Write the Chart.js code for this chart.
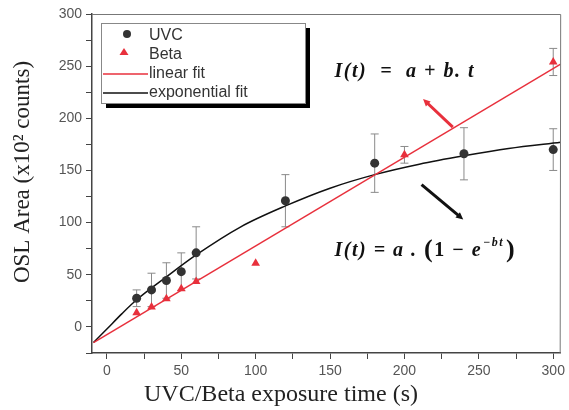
<!DOCTYPE html>
<html>
<head>
<meta charset="utf-8">
<script src="https://cdn.jsdelivr.net/npm/chart.js@4"></script>
<style>
  html, body { margin: 0; padding: 0; background: #fff; }
  #wrap { width: 569px; height: 410px; }
</style>
</head>
<body>
<div id="wrap"><canvas id="oslChart" width="569" height="410"></canvas></div>
<script>
// exposure times (s) and OSL area (x10^2 counts)
const uvcTime = [20, 30, 40, 50, 60, 120, 180, 240, 300];
const uvcArea = [27.5, 35.5, 44.5, 53, 71, 121, 157, 166, 170];
const uvcErr  = [8, 16, 17, 18, 25, 25, 28, 25, 20];

const betaTime = [20, 30, 40, 50, 60, 100, 200, 300];
const betaArea = [13.5, 19, 27, 36.5, 43.5, 61, 165, 254];
const betaErr  = [0, 0, 0, 0, 0, 0, 8, 13];

// fit curves
const linFitTime = [-9, 305];
const linFitArea = [-15, 252];
const expFitTime = [-9, 0, 10, 20, 40, 60, 90, 120, 150, 180, 210, 240, 270, 305];
const expFitArea = [-15, -2, 12.5, 26, 48, 69, 96, 116, 133, 146, 156, 164, 171, 177];

const xTicks = [0, 50, 100, 150, 200, 250, 300];
const yTicks = [0, 50, 100, 150, 200, 250, 300];

const toPts = (xs, ys) => xs.map((x, i) => ({ x: x, y: ys[i] }));

const RED = '#e8303c';
const DARK = '#333333';

// error bars, legend box, formulas, arrows and axis titles
const extras = {
  id: 'extras',
  beforeDatasetsDraw(chart) {
    const ctx = chart.ctx, xs = chart.scales.x, ys = chart.scales.y;
    ctx.save();
    ctx.strokeStyle = '#8a8a8a';
    ctx.lineWidth = 1;
    const bars = (t, v, e) => {
      t.forEach((tt, i) => {
        if (!e[i]) return;
        const px = xs.getPixelForValue(tt);
        const p1 = ys.getPixelForValue(v[i] - e[i]);
        const p2 = ys.getPixelForValue(v[i] + e[i]);
        ctx.beginPath();
        ctx.moveTo(px, p1); ctx.lineTo(px, p2);
        ctx.moveTo(px - 4, p1); ctx.lineTo(px + 4, p1);
        ctx.moveTo(px - 4, p2); ctx.lineTo(px + 4, p2);
        ctx.stroke();
      });
    };
    bars(uvcTime, uvcArea, uvcErr);
    bars(betaTime, betaArea, betaErr);
    ctx.restore();
  },
  afterDraw(chart) {
    const ctx = chart.ctx, xs = chart.scales.x, ys = chart.scales.y;
    const a = chart.chartArea;
    ctx.save();

    // frame
    ctx.strokeStyle = '#777';
    ctx.lineWidth = 1;
    ctx.beginPath();
    ctx.moveTo(a.left, a.top + 0.5); ctx.lineTo(a.right, a.top + 0.5);
    ctx.lineTo(a.right - 0.5, a.bottom);
    ctx.stroke();

    // legend
    const lx = a.left + 9, ly = a.top + 9, lw = 204, lh = 80;
    ctx.fillStyle = '#000';
    ctx.fillRect(lx + 5, ly + 5, lw, lh);
    ctx.fillStyle = '#fff';
    ctx.fillRect(lx, ly, lw, lh);
    ctx.strokeStyle = '#888';
    ctx.strokeRect(lx + 0.5, ly + 0.5, lw, lh);
    ctx.font = '16px "Liberation Sans", Arial, sans-serif';
    ctx.textBaseline = 'middle';
    ctx.textAlign = 'left';
    const ds = chart.data.datasets;
    const rows = [ly + 13, ly + 32, ly + 51, ly + 70];
    // UVC
    ctx.fillStyle = DARK;
    ctx.beginPath(); ctx.arc(lx + 26, rows[0] - 2, 4, 0, Math.PI * 2); ctx.fill();
    ctx.fillText(ds[0].label, lx + 48, rows[0]);
    // Beta
    ctx.fillStyle = RED;
    ctx.beginPath();
    ctx.moveTo(lx + 23, rows[1] - 7); ctx.lineTo(lx + 27.5, rows[1]); ctx.lineTo(lx + 18.5, rows[1]);
    ctx.closePath(); ctx.fill();
    ctx.fillStyle = DARK;
    ctx.fillText(ds[1].label, lx + 48, rows[1]);
    // fits
    ctx.lineWidth = 1.5;
    ctx.strokeStyle = RED;
    ctx.beginPath(); ctx.moveTo(lx + 2, rows[2]); ctx.lineTo(lx + 47, rows[2]); ctx.stroke();
    ctx.fillText(ds[2].label, lx + 48, rows[2]);
    ctx.strokeStyle = '#111';
    ctx.beginPath(); ctx.moveTo(lx + 2, rows[3]); ctx.lineTo(lx + 47, rows[3]); ctx.stroke();
    ctx.fillText(ds[3].label, lx + 48, rows[3]);

    // formulas
    ctx.fillStyle = '#111';
    ctx.letterSpacing = '1.5px';
    ctx.font = 'italic bold 20px "Liberation Serif", "Times New Roman", serif';
    ctx.textBaseline = 'middle';
    const f1x = xs.getPixelForValue(153), f1y = ys.getPixelForValue(245);
    ctx.fillText('I(t)  =  a + b. t', f1x, f1y);

    const f2x = xs.getPixelForValue(153), f2y = ys.getPixelForValue(73);
    let s = 'I(t) = a . ';
    ctx.fillText(s, f2x, f2y);
    let cx = f2x + ctx.measureText(s).width;
    ctx.font = 'bold 26px "Liberation Serif", serif';
    ctx.fillText('(', cx, f2y); cx += ctx.measureText('(').width;
    ctx.font = 'bold 20px "Liberation Serif", serif';
    ctx.fillText('1 \u2212 ', cx, f2y); cx += ctx.measureText('1 \u2212 ').width;
    ctx.font = 'italic bold 20px "Liberation Serif", serif';
    ctx.fillText('e', cx, f2y); cx += ctx.measureText('e').width;
    ctx.font = 'italic bold 12px "Liberation Serif", serif';
    ctx.fillText('\u2212bt', cx + 1, f2y - 8); cx += ctx.measureText('\u2212bt').width + 3;
    ctx.font = 'bold 26px "Liberation Serif", serif';
    ctx.fillText(')', cx, f2y);
    ctx.letterSpacing = '0px';

    // arrows
    const arrow = (t0, v0, t1, v1, col) => {
      const x0 = xs.getPixelForValue(t0), y0 = ys.getPixelForValue(v0);
      const x1 = xs.getPixelForValue(t1), y1 = ys.getPixelForValue(v1);
      const ang = Math.atan2(y1 - y0, x1 - x0);
      ctx.strokeStyle = col; ctx.fillStyle = col;
      ctx.lineWidth = 3;
      ctx.beginPath(); ctx.moveTo(x0, y0); ctx.lineTo(x1 - 4 * Math.cos(ang), y1 - 4 * Math.sin(ang)); ctx.stroke();
      ctx.beginPath();
      ctx.moveTo(x1, y1);
      ctx.lineTo(x1 - 8 * Math.cos(ang - 0.45), y1 - 8 * Math.sin(ang - 0.45));
      ctx.lineTo(x1 - 8 * Math.cos(ang + 0.45), y1 - 8 * Math.sin(ang + 0.45));
      ctx.closePath(); ctx.fill();
    };
    arrow(232.5, 191.5, 212.5, 218.5, RED);
    arrow(211.5, 136.5, 239.5, 103, '#111');

    // axis titles
    ctx.fillStyle = '#222';
    ctx.font = '24px "Liberation Serif", "Times New Roman", serif';
    ctx.textAlign = 'center';
    ctx.textBaseline = 'middle';
    ctx.fillText('UVC/Beta exposure time (s)', 281, 395);
    ctx.font = '23px "Liberation Serif", "Times New Roman", serif';
    ctx.translate(23, 172);
    ctx.rotate(-Math.PI / 2);
    ctx.fillText('OSL Area (x10\u00b2 counts)', 0, 0);
    ctx.restore();
  }
};

const ctx = document.getElementById('oslChart');

new Chart(ctx, {
  type: 'scatter',
  data: {
    datasets: [
      {
        label: 'UVC',
        data: toPts(uvcTime, uvcArea),
        pointStyle: 'circle',
        pointRadius: 4.5,
        backgroundColor: DARK,
        borderColor: DARK,
        borderWidth: 0
      },
      {
        label: 'Beta',
        data: toPts(betaTime, betaArea),
        pointStyle: 'triangle',
        pointRadius: 5,
        backgroundColor: RED,
        borderColor: RED,
        borderWidth: 0
      },
      {
        label: 'linear fit',
        type: 'line',
        data: toPts(linFitTime, linFitArea),
        borderColor: RED,
        borderWidth: 1.5,
        pointRadius: 0,
        fill: false
      },
      {
        label: 'exponential fit',
        type: 'line',
        data: toPts(expFitTime, expFitArea),
        borderColor: '#111',
        borderWidth: 1.5,
        pointRadius: 0,
        cubicInterpolationMode: 'monotone',
        fill: false
      }
    ]
  },
  options: {
    responsive: false,
    devicePixelRatio: 1,
    animation: false,
    layout: { padding: { top: 14, right: 5.5, left: 0, bottom: 0 } },
    plugins: {
      legend: { display: false },
      tooltip: { enabled: false }
    },
    scales: {
      x: {
        type: 'linear',
        min: -10,
        max: 305,
        afterFit: (s) => { s.height = 57; },
        border: { color: '#444', width: 1.5 },
        grid: { drawOnChartArea: false, tickLength: 6, color: '#444' },
        ticks: {
          stepSize: 25,
          includeBounds: false,
          padding: 4,
          color: '#555',
          font: { family: '"Liberation Sans", Arial, sans-serif', size: 14 },
          callback: (v) => xTicks.includes(v) ? String(v) : ''
        }
      },
      y: {
        min: -25,
        max: 300,
        afterFit: (s) => { s.width = 92; },
        border: { color: '#444', width: 1.5 },
        grid: { drawOnChartArea: false, tickLength: 6, color: '#444' },
        ticks: {
          stepSize: 25,
          includeBounds: false,
          padding: 4,
          color: '#555',
          font: { family: '"Liberation Sans", Arial, sans-serif', size: 14 },
          callback: (v) => yTicks.includes(v) ? String(v) : ''
        }
      }
    }
  },
  plugins: [extras]
});
</script>
</body>
</html>
